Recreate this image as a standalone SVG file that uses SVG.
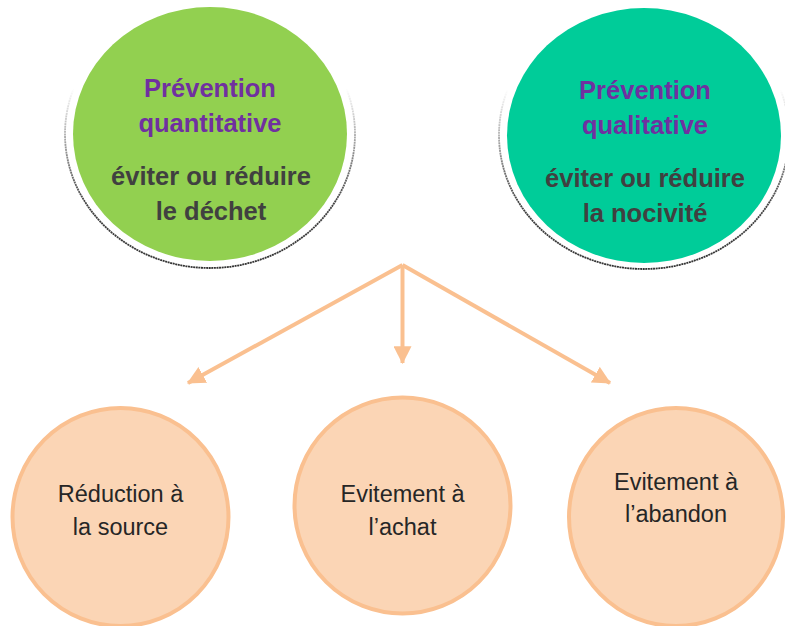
<svg xmlns="http://www.w3.org/2000/svg" width="785" height="626" viewBox="0 0 785 626">
<style>
.title{font-family:"Liberation Sans",Arial,sans-serif;font-weight:bold;font-size:25.5px;fill:#7030A0;text-anchor:middle}
.sub{font-family:"Liberation Sans",Arial,sans-serif;font-weight:bold;font-size:25.5px;fill:#404040;text-anchor:middle}
.lbl{font-family:"Liberation Sans",Arial,sans-serif;font-size:23.5px;fill:#262626;text-anchor:middle}
.ring{fill:none;stroke:url(#fade);stroke-width:1.8;stroke-dasharray:2 0.6}
.oval{fill:#FBD5B5;stroke:#FAC090;stroke-width:4}
.conn{stroke:#FAC090;stroke-width:4;fill:none;marker-end:url(#arr)}
</style>
<defs>
<linearGradient id="fade" x1="0" y1="0" x2="0" y2="1">
<stop offset="0" stop-color="#555" stop-opacity="0"/>
<stop offset="0.33" stop-color="#555" stop-opacity="0"/>
<stop offset="0.55" stop-color="#555" stop-opacity="0.6"/>
<stop offset="0.75" stop-color="#444" stop-opacity="1"/>
<stop offset="1" stop-color="#333" stop-opacity="1"/>
</linearGradient>
<marker id="arr" markerUnits="userSpaceOnUse" markerWidth="18" markerHeight="18" viewBox="0 0 16 16" refX="15" refY="8" orient="auto">
<path d="M0,0 L16,8 L0,16 z" fill="#FAC090"/>
</marker>
</defs>

<g id="node-quantitative">
<ellipse class="ring" cx="210" cy="134" rx="145" ry="134"/>
<ellipse cx="210" cy="134" rx="137" ry="127" fill="#92D050"/>
<text class="title" x="210" y="97">Prévention</text>
<text class="title" x="210" y="132">quantitative</text>
<text class="sub" x="211" y="185">éviter ou réduire</text>
<text class="sub" x="211" y="220">le déchet</text>
</g>

<g id="node-qualitative">
<ellipse class="ring" cx="644" cy="135" rx="145" ry="134"/>
<ellipse cx="644" cy="135.5" rx="137" ry="127.5" fill="#00CC99"/>
<text class="title" x="645" y="99">Prévention</text>
<text class="title" x="645" y="134">qualitative</text>
<text class="sub" x="645" y="187">éviter ou réduire</text>
<text class="sub" x="645" y="222">la nocivité</text>
</g>

<g id="connectors">
<line class="conn" x1="402.5" y1="265" x2="188" y2="383"/>
<line class="conn" x1="402.5" y1="265" x2="402.5" y2="363"/>
<line class="conn" x1="402.5" y1="265" x2="610" y2="383"/>
</g>

<g id="node-source">
<ellipse class="oval" cx="120.5" cy="517" rx="108" ry="109"/>
<text class="lbl" x="120.5" y="502">Réduction à</text>
<text class="lbl" x="120.5" y="535">la source</text>
</g>

<g id="node-achat">
<ellipse class="oval" cx="402.5" cy="505.5" rx="108" ry="108"/>
<text class="lbl" x="402.5" y="502">Evitement à</text>
<text class="lbl" x="402.5" y="535">l’achat</text>
</g>

<g id="node-abandon">
<ellipse class="oval" cx="676" cy="517" rx="107" ry="109"/>
<text class="lbl" x="676" y="490">Evitement à</text>
<text class="lbl" x="676" y="522">l’abandon</text>
</g>
</svg>
